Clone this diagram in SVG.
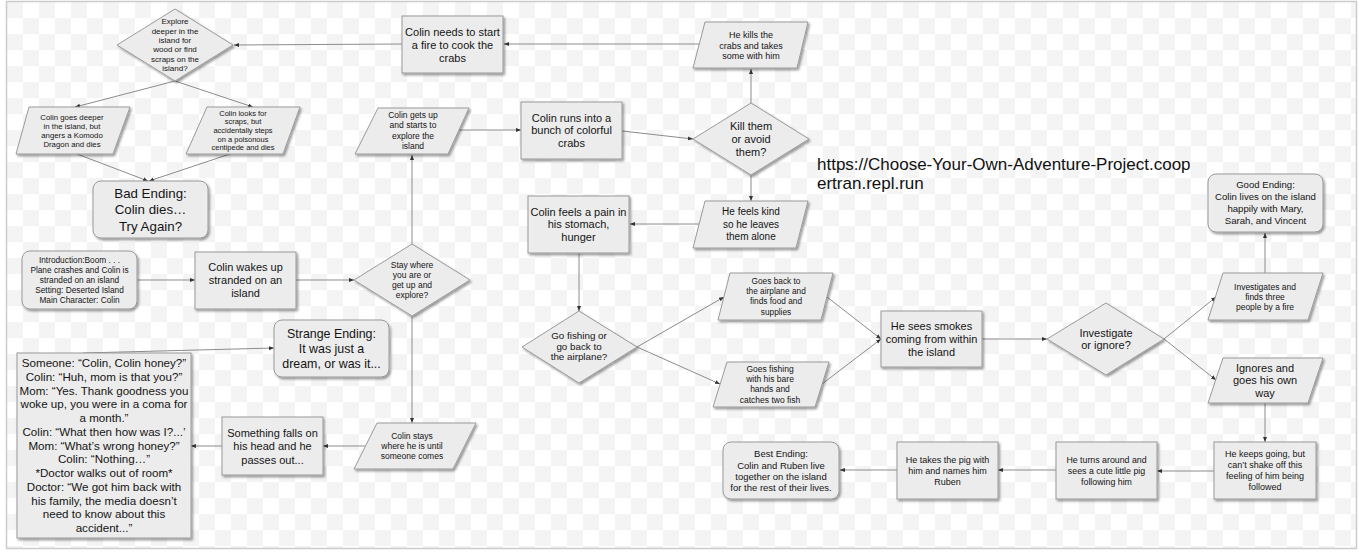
<svg xmlns="http://www.w3.org/2000/svg" width="1359" height="557" viewBox="0 0 1359 557">
<style>
.n{fill:#ececec;stroke:#9a9a9a;stroke-width:1;filter:url(#sh)}
.t{font-family:"Liberation Sans",Arial,sans-serif;fill:#141414;text-anchor:middle}
.c{fill:none;stroke:#8c8c8c;stroke-width:1;marker-end:url(#ah)}
</style>
<defs>
<pattern id="chk" x="7" y="2" width="32" height="32" patternUnits="userSpaceOnUse">
<rect width="32" height="32" fill="#ffffff"/>
<rect width="16" height="16" fill="#f4f4f4"/>
<rect x="16" y="16" width="16" height="16" fill="#f4f4f4"/>
</pattern>
<filter id="sh" x="-10%" y="-10%" width="125%" height="130%">
<feDropShadow dx="1.5" dy="1.8" stdDeviation="0.8" flood-color="#000" flood-opacity="0.4"/>
</filter>
<marker id="ah" markerUnits="userSpaceOnUse" markerWidth="6" markerHeight="6" refX="5" refY="2.5" orient="auto">
<path d="M0,0.5 L5,2.5 L0,4.5 z" fill="#333"/>
</marker>
</defs>
<rect width="1359" height="557" fill="#ffffff"/>
<rect x="6.5" y="1.5" width="1350" height="547" fill="url(#chk)" stroke="#cccccc" stroke-width="1.5"/>

<g id="connectors">
<line class="c" x1="402" y1="44" x2="234" y2="45"/>
<line class="c" x1="699" y1="44" x2="504" y2="44"/>
<line class="c" x1="175" y1="81" x2="75" y2="107"/>
<line class="c" x1="175" y1="81" x2="253" y2="107"/>
<line class="c" x1="77" y1="154" x2="148" y2="181"/>
<line class="c" x1="230" y1="154" x2="149" y2="181"/>
<line class="c" x1="412" y1="244" x2="412" y2="155"/>
<line class="c" x1="459" y1="130" x2="521" y2="130"/>
<line class="c" x1="622" y1="131" x2="693" y2="139"/>
<line class="c" x1="751" y1="103" x2="751" y2="69"/>
<line class="c" x1="751" y1="175" x2="751" y2="201"/>
<line class="c" x1="699" y1="224" x2="630" y2="224"/>
<line class="c" x1="579" y1="253" x2="579" y2="311"/>
<line class="c" x1="637" y1="347" x2="724" y2="297"/>
<line class="c" x1="637" y1="347" x2="720" y2="384"/>
<line class="c" x1="827" y1="297" x2="881" y2="339"/>
<line class="c" x1="822" y1="384" x2="881" y2="339"/>
<line class="c" x1="982" y1="339" x2="1047" y2="339"/>
<line class="c" x1="1164" y1="339" x2="1216" y2="297"/>
<line class="c" x1="1164" y1="339" x2="1216" y2="380"/>
<line class="c" x1="1265" y1="273" x2="1265" y2="233"/>
<line class="c" x1="1265" y1="403" x2="1265" y2="442"/>
<line class="c" x1="1214" y1="471" x2="1157" y2="471"/>
<line class="c" x1="1056" y1="470" x2="998" y2="470"/>
<line class="c" x1="897" y1="470" x2="840" y2="470"/>
<line class="c" x1="137" y1="280" x2="195" y2="280"/>
<line class="c" x1="296" y1="280" x2="354" y2="280"/>
<line class="c" x1="412" y1="316" x2="412" y2="423"/>
<line class="c" x1="365" y1="446" x2="323" y2="446"/>
<line class="c" x1="222" y1="446" x2="191" y2="446"/>
<line class="c" x1="83" y1="353" x2="274" y2="348"/>
</g>

<g id="explore-deeper">
<polygon class="n" points="175,9 233,45 175,81 117,45"/>
<text class="t" font-size="8" x="175" y="24.2">Explore<tspan x="175" dy="9.4">deeper in the</tspan><tspan x="175" dy="9.4">island for</tspan><tspan x="175" dy="9.4">wood or find</tspan><tspan x="175" dy="9.4">scraps on the</tspan><tspan x="175" dy="9.4">island?</tspan></text>
</g>
<g id="komodo">
<polygon class="n" points="29,107 130,107 113,154 16,154"/>
<text class="t" font-size="7.8" x="72" y="119.6">Colin goes deeper<tspan x="72" dy="9">in the island, but</tspan><tspan x="72" dy="9">angers a Komodo</tspan><tspan x="72" dy="9">Dragon and dies</tspan></text>
</g>
<g id="centipede">
<polygon class="n" points="207,107 300,107 283,154 186,154"/>
<text class="t" font-size="7.5" x="243" y="115.5">Colin looks for<tspan x="243" dy="8.7">scraps, but</tspan><tspan x="243" dy="8.7">accidentally steps</tspan><tspan x="243" dy="8.7">on a poisonous</tspan><tspan x="243" dy="8.7">centipede and dies</tspan></text>
</g>
<g id="bad-ending">
<rect class="n" x="93" y="181" width="115" height="57" rx="8"/>
<text class="t" font-size="13.3" x="150.5" y="197.5">Bad Ending:<tspan x="150.5" dy="16.5">Colin dies…</tspan><tspan x="150.5" dy="16.5">Try Again?</tspan></text>
</g>
<g id="fire">
<rect class="n" x="402" y="16" width="101" height="57"/>
<text class="t" font-size="11" x="452.5" y="35.8">Colin needs to start<tspan x="452.5" dy="13">a fire to cook the</tspan><tspan x="452.5" dy="13">crabs</tspan></text>
</g>
<g id="kills-crabs">
<polygon class="n" points="705,22 808,22 797,68 693,68"/>
<text class="t" font-size="9" x="751" y="38">He kills the<tspan x="751" dy="10.5">crabs and takes</tspan><tspan x="751" dy="10.5">some with him</tspan></text>
</g>
<g id="gets-up">
<polygon class="n" points="378,108 469,108 448,154 355,154"/>
<text class="t" font-size="8.5" x="413" y="118">Colin gets up<tspan x="413" dy="10.3">and starts to</tspan><tspan x="413" dy="10.3">explore the</tspan><tspan x="413" dy="10.3">island</tspan></text>
</g>
<g id="colorful-crabs">
<rect class="n" x="521" y="102" width="101" height="57"/>
<text class="t" font-size="11" x="571.5" y="121.5">Colin runs into a<tspan x="571.5" dy="12.5">bunch of colorful</tspan><tspan x="571.5" dy="12.5">crabs</tspan></text>
</g>
<g id="kill-or-avoid">
<polygon class="n" points="751,103 809,139 751,175 693,139"/>
<text class="t" font-size="11" x="751" y="129.8">Kill them<tspan x="751" dy="13">or avoid</tspan><tspan x="751" dy="13">them?</tspan></text>
</g>
<g id="feels-kind">
<polygon class="n" points="705,201 808,201 796,248 693,248"/>
<text class="t" font-size="10" x="751" y="215.3">He feels kind<tspan x="751" dy="12.5">so he leaves</tspan><tspan x="751" dy="12.5">them alone</tspan></text>
</g>
<g id="pain">
<rect class="n" x="528" y="196" width="101" height="57"/>
<text class="t" font-size="11" x="578.5" y="215.5">Colin feels a pain in<tspan x="578.5" dy="12.8">his stomach,</tspan><tspan x="578.5" dy="12.8">hunger</tspan></text>
</g>
<g id="fishing-or-airplane">
<polygon class="n" points="579,311 637,347 579,383 522,347"/>
<text class="t" font-size="9.8" x="579" y="339.3">Go fishing or<tspan x="579" dy="10.5">go back to</tspan><tspan x="579" dy="10.5">the airplane?</tspan></text>
</g>
<g id="airplane">
<polygon class="n" points="730,273 833,273 821,320 718,320"/>
<text class="t" font-size="8.3" x="776" y="283.8">Goes back to<tspan x="776" dy="10.3">the airplane and</tspan><tspan x="776" dy="10.3">finds food and</tspan><tspan x="776" dy="10.3">supplies</tspan></text>
</g>
<g id="fishing">
<polygon class="n" points="727,362 829,362 815,407 713,407"/>
<text class="t" font-size="8.5" x="770" y="371.8">Goes fishing<tspan x="770" dy="10.3">with his bare</tspan><tspan x="770" dy="10.3">hands and</tspan><tspan x="770" dy="10.3">catches two fish</tspan></text>
</g>
<g id="smokes">
<rect class="n" x="881" y="311" width="101" height="56"/>
<text class="t" font-size="11" x="931.5" y="329.8">He sees smokes<tspan x="931.5" dy="13">coming from within</tspan><tspan x="931.5" dy="13">the island</tspan></text>
</g>
<g id="investigate-or-ignore">
<polygon class="n" points="1106,303 1164,339 1106,375 1047,339"/>
<text class="t" font-size="11" x="1106" y="336.8">Investigate<tspan x="1106" dy="12.5">or ignore?</tspan></text>
</g>
<g id="investigates">
<polygon class="n" points="1223,273 1323,273 1308,320 1208,320"/>
<text class="t" font-size="8.5" x="1265" y="289.8">Investigates and<tspan x="1265" dy="10">finds three</tspan><tspan x="1265" dy="10">people by a fire</tspan></text>
</g>
<g id="good-ending">
<rect class="n" x="1208" y="174" width="115" height="58" rx="8"/>
<text class="t" font-size="9.6" x="1265.5" y="188.3">Good Ending:<tspan x="1265.5" dy="11.8">Colin lives on the island</tspan><tspan x="1265.5" dy="11.8">happily with Mary,</tspan><tspan x="1265.5" dy="11.8">Sarah, and Vincent</tspan></text>
</g>
<g id="ignores">
<polygon class="n" points="1223,358 1323,358 1308,403 1208,403"/>
<text class="t" font-size="11" x="1265" y="371.8">Ignores and<tspan x="1265" dy="12.5">goes his own</tspan><tspan x="1265" dy="12.5">way</tspan></text>
</g>
<g id="keeps-going">
<rect class="n" x="1214" y="442" width="102" height="57"/>
<text class="t" font-size="9" x="1265" y="457">He keeps going, but<tspan x="1265" dy="11">can’t shake off this</tspan><tspan x="1265" dy="11">feeling of him being</tspan><tspan x="1265" dy="11">followed</tspan></text>
</g>
<g id="turns-around">
<rect class="n" x="1056" y="442" width="101" height="57"/>
<text class="t" font-size="8.8" x="1106.5" y="463">He turns around and<tspan x="1106.5" dy="10.8">sees a cute little pig</tspan><tspan x="1106.5" dy="10.8">following him</tspan></text>
</g>
<g id="takes-pig">
<rect class="n" x="897" y="442" width="101" height="57"/>
<text class="t" font-size="9" x="947.5" y="463">He takes the pig with<tspan x="947.5" dy="11">him and names him</tspan><tspan x="947.5" dy="11">Ruben</tspan></text>
</g>
<g id="best-ending">
<rect class="n" x="723" y="442" width="116" height="57" rx="8"/>
<text class="t" font-size="9.5" x="781" y="457.2">Best Ending:<tspan x="781" dy="11.3">Colin and Ruben live</tspan><tspan x="781" dy="11.3">together on the island</tspan><tspan x="781" dy="11.3">for the rest of their lives.</tspan></text>
</g>
<g id="introduction">
<rect class="n" x="22" y="251" width="115" height="58" rx="8"/>
<text class="t" font-size="8.3" x="79.5" y="262.8">Introduction:Boom . . .<tspan x="79.5" dy="10">Plane crashes and Colin is</tspan><tspan x="79.5" dy="10">stranded on an island</tspan><tspan x="79.5" dy="10">Setting: Deserted Island</tspan><tspan x="79.5" dy="10">Main Character: Colin</tspan></text>
</g>
<g id="wakes-up">
<rect class="n" x="195" y="252" width="101" height="57"/>
<text class="t" font-size="11" x="245.5" y="270.8">Colin wakes up<tspan x="245.5" dy="13">stranded on an</tspan><tspan x="245.5" dy="13">island</tspan></text>
</g>
<g id="stay-or-explore">
<polygon class="n" points="412,244 470,280 412,316 354,280"/>
<text class="t" font-size="8.5" x="412" y="267.9">Stay where<tspan x="412" dy="10">you are or</tspan><tspan x="412" dy="10">get up and</tspan><tspan x="412" dy="10">explore?</tspan></text>
</g>
<g id="stays">
<polygon class="n" points="377,423 476,423 453,469 354,469"/>
<text class="t" font-size="8.5" x="412" y="438.9">Colin stays<tspan x="412" dy="10">where he is until</tspan><tspan x="412" dy="10">someone comes</tspan></text>
</g>
<g id="falls-on-head">
<rect class="n" x="222" y="417" width="101" height="58"/>
<text class="t" font-size="11" x="272.5" y="436.7">Something falls on<tspan x="272.5" dy="13.5">his head and he</tspan><tspan x="272.5" dy="13.5">passes out...</tspan></text>
</g>
<g id="dialogue">
<rect class="n" x="17" y="353" width="174" height="185"/>
<text class="t" font-size="11.6" x="104" y="367">Someone: “Colin, Colin honey?”<tspan x="104" dy="13.75">Colin: “Huh, mom is that you?”</tspan><tspan x="104" dy="13.75">Mom: “Yes. Thank goodness you</tspan><tspan x="104" dy="13.75">woke up, you were in a coma for</tspan><tspan x="104" dy="13.75">a month.”</tspan><tspan x="104" dy="13.75">Colin: “What then how was I?...’</tspan><tspan x="104" dy="13.75">Mom: “What’s wrong honey?”</tspan><tspan x="104" dy="13.75">Colin: “Nothing…”</tspan><tspan x="104" dy="13.75">*Doctor walks out of room*</tspan><tspan x="104" dy="13.75">Doctor: “We got him back with</tspan><tspan x="104" dy="13.75">his family, the media doesn’t</tspan><tspan x="104" dy="13.75">need to know about this</tspan><tspan x="104" dy="13.75">accident...”</tspan></text>
</g>
<g id="strange-ending">
<rect class="n" x="274" y="320" width="115" height="57" rx="8"/>
<text class="t" font-size="12.4" x="331.5" y="338.3">Strange Ending:<tspan x="331.5" dy="15">It was just a</tspan><tspan x="331.5" dy="15">dream, or was it...</tspan></text>
</g>
<g id="url">
<text font-family="'Liberation Sans',Arial,sans-serif" font-size="17" fill="#111" x="817" y="170">https://Choose-Your-Own-Adventure-Project.coop<tspan x="817" dy="19">ertran.repl.run</tspan></text>
</g>
</svg>
